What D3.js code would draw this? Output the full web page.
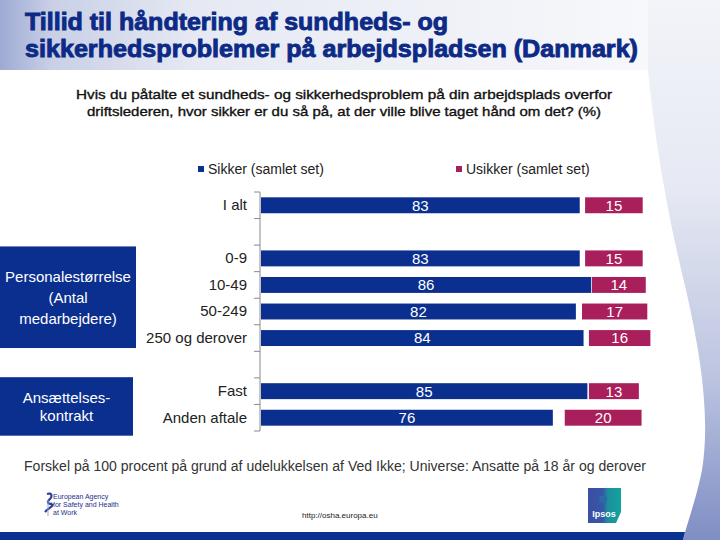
<!DOCTYPE html>
<html><head><meta charset="utf-8">
<script src="https://cdn.jsdelivr.net/npm/d3@7"></script>
<style>html,body{margin:0;padding:0;background:#fff;}svg{display:block;font-family:"Liberation Sans",Arial,sans-serif;}</style>
</head><body>
<svg id="c" width="720" height="540"></svg>
<script>
// ---- data ----
const categories = ["I alt","0-9","10-49","50-249","250 og derover","Fast","Anden aftale"];
const sikker   = [83,83,86,82,84,85,76];
const usikker  = [15,15,14,17,16,13,20];
const vedIkkeGap = [1.4,1.4,0.2,1.6,1.4,0.4,3.1]; // hidden "Ved ikke" share between the two bars
const rowOrder = ["I alt","_g1","0-9","10-49","50-249","250 og derover","_g2","Fast","Anden aftale"];
const seriesNames = ["Sikker (samlet set)","Usikker (samlet set)"];
const groups = [
  {lines:["Personalestørrelse","(Antal","medarbejdere)"], first:"0-9", last:"250 og derover"},
  {lines:["Ansættelses-","kontrakt"], first:"Fast", last:"Anden aftale"}
];
const titleLines = ["Tillid til håndtering af sundheds- og","sikkerhedsproblemer på arbejdspladsen (Danmark)"];
const subtitleLines = ["Hvis du påtalte et sundheds- og sikkerhedsproblem på din arbejdsplads overfor",
  "driftslederen, hvor sikker er du så på, at der ville blive taget hånd om det? (%)"];
const footnote = "Forskel på 100 procent på grund af udelukkelsen af Ved Ikke;  Universe: Ansatte på 18 år og derover";

const BLUE = "#0b2f8f", MAG = "#a81f5c", NAVY = "#0c2a86";
const svg = d3.select("#c");
const defs = svg.append("defs");

// ---- background ----
const hg = defs.append("linearGradient").attr("id","hg").attr("x1","0").attr("x2","1").attr("y1","0").attr("y2","0");
hg.append("stop").attr("offset","0").attr("stop-color","#9eaad3");
hg.append("stop").attr("offset","0.08").attr("stop-color","#c9d0e6");
hg.append("stop").attr("offset","0.3").attr("stop-color","#e6e9f3");
hg.append("stop").attr("offset","1").attr("stop-color","#f7f8fb");
svg.append("rect").attr("x",0).attr("y",0).attr("width",650).attr("height",70).attr("fill","url(#hg)");

const rg = defs.append("linearGradient").attr("id","rg").attr("x1","0").attr("x2","0").attr("y1","0").attr("y2","1");
rg.append("stop").attr("offset","0").attr("stop-color","#f3f4f9");
rg.append("stop").attr("offset","0.35").attr("stop-color","#e6e9f3");
rg.append("stop").attr("offset","0.7").attr("stop-color","#bcc4e0");
rg.append("stop").attr("offset","1").attr("stop-color","#7f8ec4");
svg.append("path")
  .attr("d","M648,0 L648,70 C654,130 664,200 686,290 C702,360 710,420 702,470 C696,500 688,520 683,540 L720,540 L720,0 Z")
  .attr("fill","url(#rg)");

// bottom band
svg.append("path").attr("d","M0,532 L685,532 L683,540 L0,540 Z").attr("fill","#0b3290");

// ---- title ----
svg.append("g").selectAll("text").data(titleLines).join("text")
  .attr("x",25).attr("y",(d,i)=>30+i*27)
  .attr("fill",NAVY).attr("stroke",NAVY).attr("stroke-width",0.9)
  .attr("font-size",24).attr("font-weight","bold")
  .attr("textLength",(d,i)=>i===0?423:613).attr("lengthAdjust","spacingAndGlyphs")
  .text(d=>d);

// ---- subtitle ----
svg.append("g").selectAll("text").data(subtitleLines).join("text")
  .attr("x",344).attr("y",(d,i)=>99+i*17).attr("text-anchor","middle")
  .attr("fill","#111").attr("stroke","#111").attr("stroke-width",0.35).attr("font-size",13)
  .attr("textLength",(d,i)=>i===0?536:514).attr("lengthAdjust","spacingAndGlyphs")
  .text(d=>d);

// ---- scales ----
const x = d3.scaleLinear().domain([0,100]).range([261,645]);
const y = d3.scaleBand().domain(rowOrder).range([192,431]).paddingInner(0.4).paddingOuter(0.2);
const color = d3.scaleOrdinal().domain(seriesNames).range([BLUE,MAG]);

// ---- legend ----
const leg = svg.append("g").attr("font-size",14).attr("fill","#222");
const legX = [198,456];
seriesNames.forEach((s,i)=>{
  leg.append("rect").attr("x",legX[i]).attr("y",166).attr("width",6).attr("height",6).attr("fill",color(s));
  leg.append("text").attr("x",legX[i]+10).attr("y",174).attr("fill","#222").text(s);
});

// ---- axis ----
const ax = svg.append("g").attr("transform","translate(260,0)")
  .call(d3.axisLeft(y).tickSize(0).tickPadding(13).tickFormat(d=>d.startsWith("_")?"":d));
ax.select(".domain").remove();
ax.selectAll("text").attr("font-size",15).attr("fill","#222").attr("font-family","Liberation Sans, Arial, sans-serif");
const step = y.step();
const edges = d3.range(rowOrder.length+1).map(i=>y.range()[0]+i*step);
svg.append("line").attr("x1",260).attr("x2",260).attr("y1",edges[0]).attr("y2",edges[edges.length-1]).attr("stroke","#8a8a8a");
svg.append("g").selectAll("line").data(edges).join("line")
  .attr("x1",254).attr("x2",260).attr("y1",d=>d).attr("y2",d=>d).attr("stroke","#8a8a8a");

// ---- bars ----
const rows = categories.map((c,i)=>({c, s:sikker[i], u:usikker[i], g:vedIkkeGap[i]}));
const bars = svg.append("g");
bars.selectAll("rect.s").data(rows).join("rect").attr("class","s")
  .attr("x",x(0)).attr("y",d=>y(d.c)).attr("width",d=>x(d.s)-x(0)).attr("height",y.bandwidth())
  .attr("fill",color(seriesNames[0]));
bars.selectAll("rect.u").data(rows).join("rect").attr("class","u")
  .attr("x",d=>x(d.s+d.g)).attr("y",d=>y(d.c)).attr("width",d=>x(d.u)-x(0)).attr("height",y.bandwidth())
  .attr("fill",color(seriesNames[1]));
const lab = svg.append("g").attr("font-size",15).attr("fill","#fff").attr("text-anchor","middle");
lab.selectAll("text.s").data(rows).join("text").attr("class","s")
  .attr("x",d=>(x(0)+x(d.s))/2).attr("y",d=>y(d.c)+y.bandwidth()/2).attr("dy","0.36em").text(d=>d.s);
lab.selectAll("text.u").data(rows).join("text").attr("class","u")
  .attr("x",d=>x(d.s+d.g)+(x(d.u)-x(0))/2).attr("y",d=>y(d.c)+y.bandwidth()/2).attr("dy","0.36em").text(d=>d.u);

// ---- group boxes ----
const boxW = [136,133];
const boxPad = [[4,2],[6,10]];
groups.forEach((g,gi)=>{
  const y0 = y(g.first)-boxPad[gi][0], y1 = y(g.last)+y.bandwidth()+boxPad[gi][1];
  svg.append("rect").attr("x",0).attr("y",y0).attr("width",boxW[gi]).attr("height",y1-y0).attr("fill",BLUE);
  const lh = gi===0?21:18;
  const cy = (y0+y1)/2 - (g.lines.length-1)*lh/2;
  svg.append("g").selectAll("text").data(g.lines).join("text")
    .attr("x",boxW[gi]/2).attr("y",(d,i)=>cy+i*lh).attr("dy","0.36em")
    .attr("text-anchor","middle").attr("fill","#fff").attr("font-size",15).text(d=>d);
});

// ---- footnote ----
svg.append("text").attr("x",24).attr("y",471).attr("font-size",14).attr("fill","#333")
  .attr("textLength",622).attr("lengthAdjust","spacingAndGlyphs").text(footnote);

// ---- footer logos ----
const eu = svg.append("g");
eu.append("path").attr("d","M47,494 C52,492 53,497 49,500 C46,503 50,505 52,503 M45,512 C48,508 52,508 53,504")
  .attr("fill","none").attr("stroke","#2b3f9c").attr("stroke-width",2.2);
eu.append("line").attr("x1",48).attr("x2",48).attr("y1",500).attr("y2",516).attr("stroke","#9aa3c8").attr("stroke-width",1);
["European Agency","for Safety and Health","at Work"].forEach((t,i)=>{
  eu.append("text").attr("x",53).attr("y",499+i*8).attr("font-size",7).attr("fill","#1d2f8a").text(t);
});
svg.append("text").attr("x",302).attr("y",518).attr("font-size",8).attr("fill","#222").text("http://osha.europa.eu");

const ig = defs.append("linearGradient").attr("id","ig").attr("x1","0").attr("x2","1").attr("y1","0").attr("y2","0");
ig.append("stop").attr("offset","0").attr("stop-color","#3d4ea3");
ig.append("stop").attr("offset","0.45").attr("stop-color","#3557a6");
ig.append("stop").attr("offset","0.6").attr("stop-color","#1c8f9e");
ig.append("stop").attr("offset","1").attr("stop-color","#12a39c");
svg.append("path").attr("d","M588,488 L621,488 L621,512 L616,523 L588,523 Z").attr("fill","url(#ig)");
svg.append("circle").attr("cx",603).attr("cy",499).attr("r",4).attr("fill","#2a6aa8");
svg.append("text").attr("x",604).attr("y",517).attr("text-anchor","middle").attr("font-size",9).attr("font-weight","bold").attr("fill","#fff").text("Ipsos");
</script>
</body></html>
